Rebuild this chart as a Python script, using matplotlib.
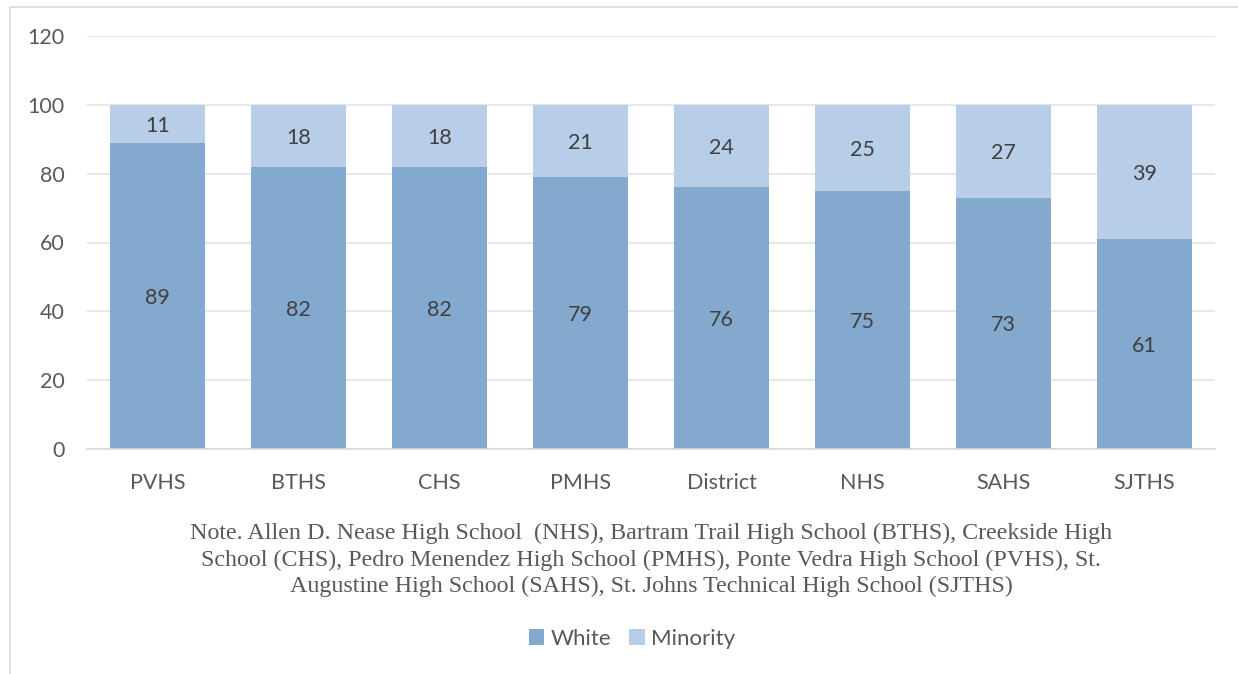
import numpy as np
import matplotlib.pyplot as plt
from matplotlib.patches import Rectangle

schools = ["PVHS", "BTHS", "CHS", "PMHS", "District", "NHS", "SAHS", "SJTHS"]
white = [89, 82, 82, 79, 76, 75, 73, 61]
minority = [11, 18, 18, 21, 24, 25, 27, 39]

note = ("Note. Allen D. Nease High School  (NHS), Bartram Trail High School (BTHS), Creekside High\n"
        "School (CHS), Pedro Menendez High School (PMHS), Ponte Vedra High School (PVHS), St.\n"
        "Augustine High School (SAHS), St. Johns Technical High School (SJTHS)")

c_white = "#84a9cf"
c_min = "#b7cde8"
txt = "#595959"

plt.rcParams["font.family"] = ["Lato", "DejaVu Sans"]

fig = plt.figure(figsize=(12.38, 6.74), dpi=100)
ax = fig.add_axes([87 / 1238, 1 - 449 / 674, 1128 / 1238, 413 / 674])

x = np.arange(len(schools))
b1 = ax.bar(x, white, width=0.67, color=c_white, zorder=2)
b2 = ax.bar(x, minority, width=0.67, bottom=white, color=c_min, zorder=2)

# value labels in the middle of each segment, nudged down a little
for i in range(len(schools)):
    ax.annotate(str(white[i]), (x[i], white[i] / 2), xytext=(0, -1.5), textcoords="offset points",
                ha="center", va="center", fontsize=15.5, color="#404040", zorder=3)
    ax.annotate(str(minority[i]), (x[i], white[i] + minority[i] / 2), xytext=(0, -1.5),
                textcoords="offset points", ha="center", va="center", fontsize=15.5,
                color="#404040", zorder=3)

ax.set_xlim(-0.5, len(schools) - 0.5)
ax.set_ylim(0, 120)
ax.set_yticks(range(0, 121, 20))
ax.set_xticks(x)
ax.set_xticklabels(schools)
ax.grid(axis="y", color="#e3e3e3", linewidth=1.2, zorder=0)
ax.tick_params(axis="both", length=0, labelsize=15.5, colors=txt)
ax.tick_params(axis="y", pad=16)
ax.tick_params(axis="x", pad=17)
for s in ["top", "right", "left"]:
    ax.spines[s].set_visible(False)
ax.spines["bottom"].set_color("#d9d9d9")
ax.spines["bottom"].set_linewidth(1.2)

fig.text(651 / 1238, 1 - 560 / 674, note, ha="center", va="center",
         family="Liberation Serif", fontsize=17.3, color=txt, linespacing=1.35)

fig.legend([b1, b2], ["White", "Minority"], loc="center", bbox_to_anchor=(632 / 1238, 1 - 639 / 674),
           ncol=2, frameon=False, fontsize=16, labelcolor=txt, handlelength=0.7, handleheight=0.7,
           handletextpad=0.3, columnspacing=0.8)

# outer chart frame
fig.patches.append(Rectangle((10 / 1238, -0.05), 1.1, 1 - 7 / 674 + 0.05, transform=fig.transFigure,
                             fill=False, edgecolor="#d9d9d9", linewidth=1.2))

fig.savefig("out.png", dpi=100)
